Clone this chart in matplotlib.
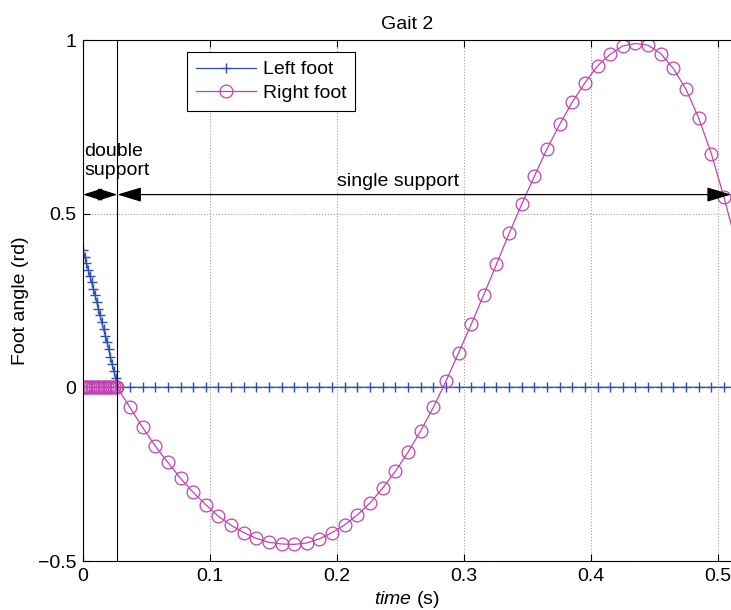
import numpy as np
import matplotlib
matplotlib.use("Agg")
import matplotlib.pyplot as plt

plt.rcParams['font.family'] = ['Liberation Sans', 'DejaVu Sans']
plt.rcParams['mathtext.fontset'] = 'custom'
plt.rcParams['mathtext.it'] = 'Liberation Sans:italic'
plt.rcParams['mathtext.rm'] = 'Liberation Sans'
plt.rcParams['axes.unicode_minus'] = True

# double support phase (both feet on the ground)
t_double = [0.0, 0.00135, 0.0027, 0.00405, 0.0054, 0.00675, 0.0081, 0.00945,
            0.0108, 0.01215, 0.0135, 0.01485, 0.0162, 0.01755, 0.0189,
            0.02025, 0.0216, 0.02295, 0.0243, 0.02565, 0.027]
left_double = [0.395, 0.376, 0.358, 0.339, 0.322, 0.303, 0.284, 0.266,
               0.246, 0.226, 0.207, 0.187, 0.168, 0.149, 0.130, 0.109,
               0.087, 0.067, 0.046, 0.027, 0.0]
right_double = [0.0] * len(t_double)

# single support phase
t_single = [0.0370, 0.0469, 0.0569, 0.0668, 0.0768, 0.0867, 0.0967, 0.1066,
            0.1166, 0.1265, 0.1365, 0.1464, 0.1564, 0.1663, 0.1763, 0.1862,
            0.1962, 0.2061, 0.2161, 0.2260, 0.2360, 0.2459, 0.2559, 0.2658,
            0.2758, 0.2857, 0.2957, 0.3056, 0.3156, 0.3255, 0.3355, 0.3454,
            0.3554, 0.3653, 0.3753, 0.3852, 0.3952, 0.4051, 0.4151, 0.4250,
            0.4350, 0.4449, 0.4549, 0.4648, 0.4748, 0.4847, 0.4947, 0.5046,
            0.5146]
right_single = [-0.058, -0.115, -0.169, -0.216, -0.262, -0.302, -0.338, -0.371,
                -0.397, -0.418, -0.435, -0.446, -0.451, -0.452, -0.448, -0.436,
                -0.418, -0.396, -0.367, -0.333, -0.290, -0.242, -0.187, -0.126,
                -0.058, 0.017, 0.099, 0.181, 0.267, 0.354, 0.443, 0.527,
                0.608, 0.686, 0.757, 0.821, 0.877, 0.925, 0.959, 0.983,
                0.990, 0.985, 0.961, 0.918, 0.858, 0.776, 0.673, 0.548,
                0.410]
left_single = [0.0] * len(t_single)

t_switch = 0.027
time = t_double + t_single
left_foot = left_double + left_single
right_foot = right_double + right_single

xticks = [0, 0.1, 0.2, 0.3, 0.4, 0.5]
xtick_labels = ['0', '0.1', '0.2', '0.3', '0.4', '0.5']
yticks = [-0.5, 0, 0.5, 1]
ytick_labels = ['\u22120.5', '0', '0.5', '1']

blue = '#3050b0'
pink = '#c043b0'
fs = 14

fig = plt.figure(figsize=(7.31, 6.1), dpi=100)
ax = fig.add_axes([0.1135, 0.0803, 0.8865, 0.8541])

# last sample lies past the visible range: line only, no marker
marked = list(range(len(time) - 1))
ax.plot(time, left_foot, color=blue, lw=0.9, marker='+', ms=7.5, mew=1.0,
        markevery=marked, label='Left foot')
ax.plot(time, right_foot, color=pink, lw=0.9, marker='o', ms=9.2, mew=0.9,
        mfc='none', markevery=marked, label='Right foot')

# end of double support
ax.axvline(t_switch, color='k', lw=0.8)

ax.set_xlim(0, 0.5102)
ax.set_ylim(-0.5, 1)
ax.set_xticks(xticks)
ax.set_xticklabels(xtick_labels)
ax.set_yticks(yticks)
ax.set_yticklabels(ytick_labels)
ax.tick_params(direction='in', length=5, width=0.8, labelsize=fs, pad=5,
               top=True, right=False)
ax.spines['right'].set_visible(False)
for s in ['left', 'top', 'bottom']:
    ax.spines[s].set_linewidth(0.8)
ax.grid(True, linestyle=':', color='#a0a0a0', lw=0.8)
ax.set_axisbelow(True)

ax.set_title('Gait 2', fontsize=fs, pad=8)
ax.set_xlabel(r'$\mathit{time}$ (s)', fontsize=fs, labelpad=3)
ax.set_ylabel('Foot angle (rd)', fontsize=fs, labelpad=6)

# phase arrows
arrow_y = 0.555
ax.annotate('', xy=(0, arrow_y), xytext=(t_switch, arrow_y),
            arrowprops=dict(arrowstyle='<|-|>,head_length=1.0,head_width=0.32',
                            color='k', lw=0.9, shrinkA=0, shrinkB=0,
                            mutation_scale=12), annotation_clip=False)
ax.annotate('', xy=(t_switch, arrow_y), xytext=(0.5102, arrow_y),
            arrowprops=dict(arrowstyle='<|-|>,head_length=1.0,head_width=0.3',
                            color='k', lw=0.9, shrinkA=0, shrinkB=0,
                            mutation_scale=15), annotation_clip=False)
ax.text(0.001, 0.652, 'double\nsupport', fontsize=fs, ha='left', va='center',
        linespacing=1.2)
ax.text(0.248, 0.592, 'single support', fontsize=fs, ha='center', va='center')

leg = ax.legend(loc='upper left', bbox_to_anchor=(0.1605, 0.977),
                borderaxespad=0, fontsize=fs, fancybox=False, framealpha=1,
                edgecolor='k', handlelength=3.1, handletextpad=0.35,
                labelspacing=0.3, borderpad=0.45, numpoints=1)
leg.get_frame().set_linewidth(0.8)

fig.savefig('out.png', dpi=100)
